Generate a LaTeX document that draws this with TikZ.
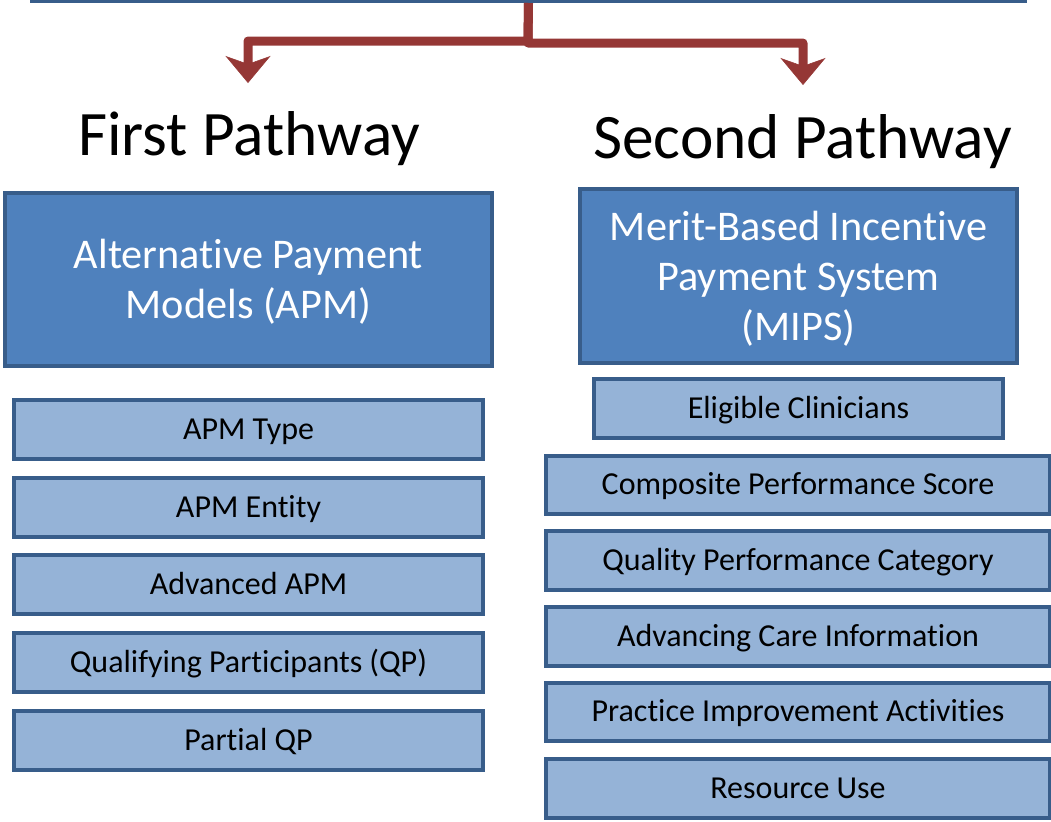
\documentclass[tikz,border=0pt]{standalone}
\usepackage{fontspec}
\setmainfont{Carlito}[Ligatures=NoCommon]
\usetikzlibrary{arrows.meta}

\definecolor{darkfill}{HTML}{4F81BD}
\definecolor{lightfill}{HTML}{95B3D7}
\definecolor{boxline}{HTML}{385D8A}
\definecolor{arrowred}{HTML}{953735}

\tikzset{
  pxsize/.style 2 args={minimum width=#1*0.75pt, minimum height=#2*0.75pt},
  bigbox/.style={draw=boxline, fill=darkfill, line width=3pt, inner sep=0pt,
    text=white, align=center, font=\fontsize{31.7}{37.5}\selectfont},
  twolines/.style={text height=63.75pt, text depth=6pt},
  threelines/.style={text height=102pt, text depth=6pt},
  itembox/.style={draw=boxline, fill=lightfill, line width=3pt, inner sep=0pt,
    text=black, align=center, font=\fontsize{24}{28}\selectfont,
    text height=17.3pt, text depth=2.7pt},
  pathtitle/.style={anchor=base, inner sep=0pt, font=\fontsize{47.5}{56}\selectfont},
  conn/.style={draw=arrowred, line width=6.75pt, line join=round,
    -{Stealth[length=27*0.75pt, width=45*0.75pt, inset=8*0.75pt, line width=0.4pt]}}
}

\begin{document}
\begin{tikzpicture}[x=0.75pt, y=-0.75pt]
  \useasboundingbox (0,0) rectangle (1051,822);
  \clip (0,0) rectangle (1051,822);

  % box above the two pathways (only its lower edge is in view)
  \node[bigbox, pxsize={993}{60}] (top) at (528.5,-29) {};

  % pathway headings
  \node[pathtitle] (first)  at (249,155) {First Pathway};
  \node[pathtitle] (second) at (802.5,158) {Second Pathway};

  % arrow end points
  \coordinate (tipL) at (248,83);
  \coordinate (tipR) at (803,85);

  % split connector
  \draw[conn] (top.south) -- (528,41) -| (tipL);
  \draw[conn] (top.south) -- (528,43) -| (tipR);

  % main program boxes
  \node[bigbox, twolines, pxsize={487}{173}] (apm) at (248.5,279.5)
    {Alternative Payment\\Models (APM)};
  \node[bigbox, threelines, pxsize={437}{174}] (mips) at (798.5,276)
    {Merit-Based Incentive\\Payment System\\(MIPS)};

  % first pathway items
  \node[itembox, pxsize={469}{59}] (apmtype)   at (248.5,429.5) {APM Type};
  \node[itembox, pxsize={469}{59}] (apmentity) at (248.5,507.5) {APM Entity};
  \node[itembox, pxsize={469}{59}] (advapm)    at (248.5,584.5) {Advanced APM};
  \node[itembox, pxsize={469}{59}] (qp)        at (248.5,662.5) {Qualifying Participants (QP)};
  \node[itembox, pxsize={469}{59}] (partialqp) at (248.5,740.5) {Partial QP};

  % second pathway items
  \node[itembox, pxsize={409}{59}] (eligible)  at (798.5,408.5) {Eligible Clinicians};
  \node[itembox, pxsize={504}{58}] (composite) at (798,485)     {Composite Performance Score};
  \node[itembox, pxsize={504}{59}] (quality)   at (798,560.5)   {Quality Performance Category};
  \node[itembox, pxsize={504}{59}] (advcare)   at (798,636.5)   {Advancing Care Information};
  \node[itembox, pxsize={504}{58}] (practice)  at (798,712)     {Practice Improvement Activities};
  \node[itembox, pxsize={504}{59}] (resource)  at (798,788.5)   {Resource Use};
\end{tikzpicture}
\end{document}
